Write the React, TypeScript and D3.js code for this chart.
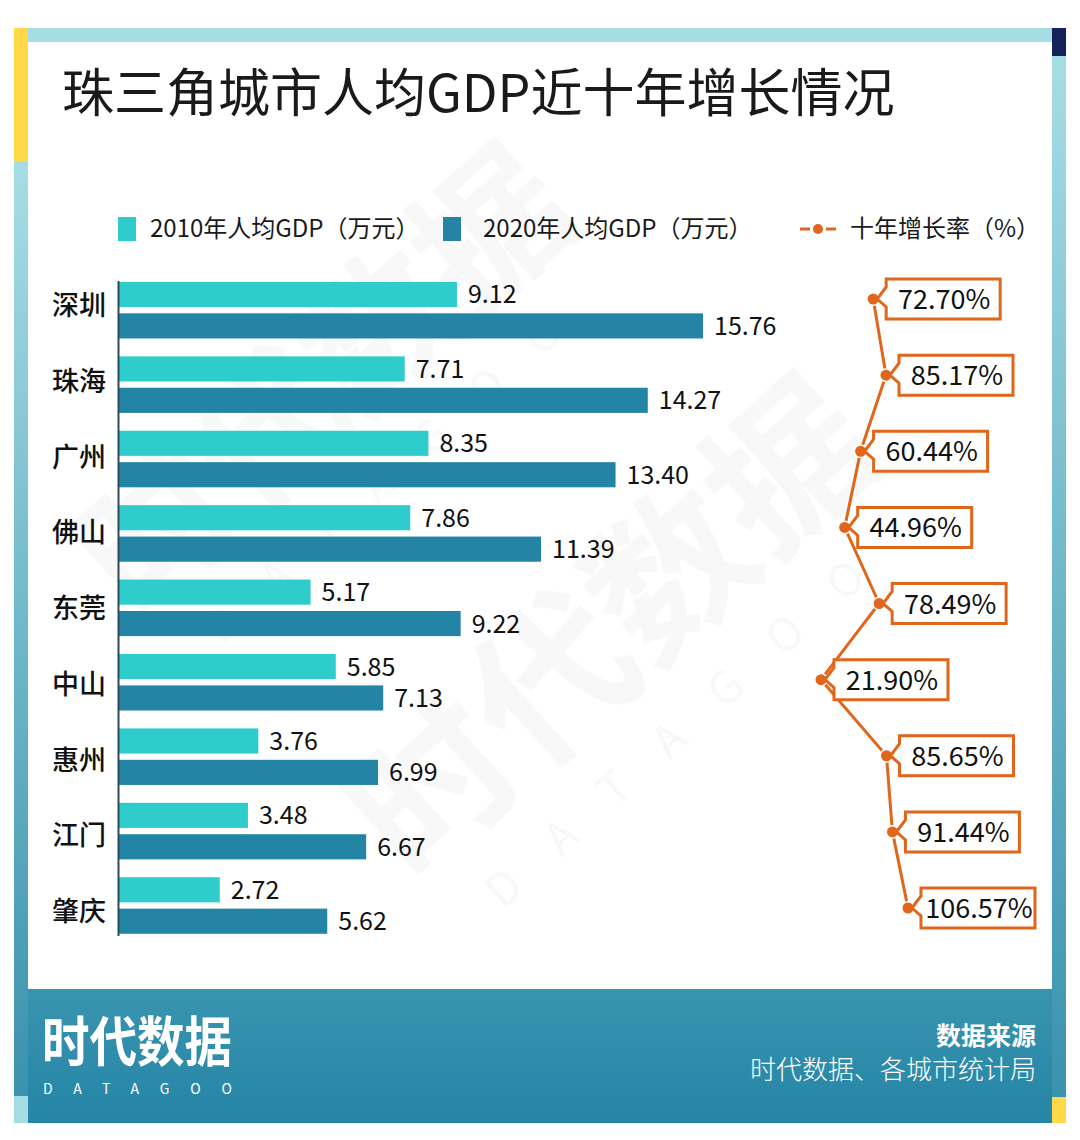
import { scaleBand, scaleLinear, scalePoint, line } from "d3";

const cities = ["深圳", "珠海", "广州", "佛山", "东莞", "中山", "惠州", "江门", "肇庆"];
const gdp2010 = [9.12, 7.71, 8.35, 7.86, 5.17, 5.85, 3.76, 3.48, 2.72];
const gdp2020 = [15.76, 14.27, 13.4, 11.39, 9.22, 7.13, 6.99, 6.67, 5.62];
const growth = [72.7, 85.17, 60.44, 44.96, 78.49, 21.9, 85.65, 91.44, 106.57];
const seriesKeys = ["2010", "2020"];
const legendLabels = ["2010年人均GDP（万元）", "2020年人均GDP（万元）", "十年增长率（%）"];

const FONT = '"Noto Sans CJK SC", "Noto Sans", sans-serif';
const C2010 = "#2ecdcb";
const C2020 = "#2484a5";
const ORANGE = "#e0661c";
const LIGHT = "#a6dde5";

export default function App() {
  const width = 1080;
  const height = 1140;

  const y = scaleBand<string>().domain(cities).range([273, 942.7]).paddingInner(0.24).paddingOuter(0.12);
  const ySub = scaleBand<string>().domain(seriesKeys).range([0, y.bandwidth()]).paddingInner(0.2);
  const x = scaleLinear().domain([0, 15.76]).range([119, 703]);
  const labelY = scalePoint<string>().domain(cities).range([305, 911]);
  const gy = scalePoint<string>().domain(cities).range([299, 908]);
  const gx = scaleLinear().domain([0, 110]).range([798.5, 911.5]);

  const pts: [number, number][] = cities.map((c, i) => [gx(growth[i]), gy(c)!]);
  const path = line()(pts) ?? "";

  const boxW = 114;
  const boxH = 40;

  const watermark = (cx: number, cy: number, size: number, key: string) => (
    <g key={key} transform={`translate(${cx},${cy}) rotate(-42)`} fill="#000" opacity={0.022}>
      <text textAnchor="middle" fontSize={size} fontWeight={700} fontFamily={FONT}>时代数据</text>
      <text y={size * 0.5} textAnchor="middle" fontSize={size * 0.28} fontFamily={FONT} letterSpacing={size * 0.3}>DATAGOO</text>
    </g>
  );

  return (
    <svg width={width} height={height} style={{ position: "absolute", left: 0, top: 0 }} fontFamily={FONT}>
      <defs>
        <linearGradient id="sideGrad" x1="0" y1="0" x2="0" y2="1">
          <stop offset="0" stopColor={LIGHT} />
          <stop offset="1" stopColor="#3a92ae" />
        </linearGradient>
        <linearGradient id="footGrad" x1="0" y1="0" x2="0" y2="1">
          <stop offset="0" stopColor="#3994b0" />
          <stop offset="1" stopColor="#2585a6" />
        </linearGradient>
      </defs>
      <rect width={width} height={height} fill="#fff" />

      {/* frame */}
      <rect x={28} y={28} width={1024} height={14} fill={LIGHT} />
      <rect x={14} y={162} width={14} height={934} fill="url(#sideGrad)" />
      <rect x={14} y={28} width={14} height={134} fill="#ffd94a" />
      <rect x={1052} y={56} width={14} height={1041} fill="url(#sideGrad)" />
      <rect x={1052} y={28} width={14} height={28} fill="#15215a" />
      <rect x={28} y={42} width={1024} height={947} fill="#fff" />

      {watermark(360, 420, 150, "w1")}
      {watermark(650, 670, 160, "w2")}

      {/* title */}
      <text x={62} y={112} fontSize={52} fill="#1a1a1a" fontWeight={400}>
        珠三角城市人均GDP近十年增长情况
      </text>

      {/* legend */}
      <g fontSize={24} fill="#1a1a1a">
        <rect x={118} y={217} width={18} height={24} fill={C2010} />
        <text x={150} y={237}>{legendLabels[0]}</text>
        <rect x={443} y={217} width={18} height={24} fill={C2020} />
        <text x={483} y={237}>{legendLabels[1]}</text>
        <line x1={800} x2={810} y1={229} y2={229} stroke={ORANGE} strokeWidth={3} />
        <line x1={826} x2={836} y1={229} y2={229} stroke={ORANGE} strokeWidth={3} />
        <circle cx={818} cy={229} r={5} fill={ORANGE} />
        <text x={850} y={237}>{legendLabels[2]}</text>
      </g>

      {/* bars */}
      {cities.map((c, i) => {
        const y0 = y(c)!;
        const vals = [gdp2010[i], gdp2020[i]];
        return (
          <g key={c}>
            {seriesKeys.map((k, j) => {
              const by = y0 + ySub(k)!;
              const bh = ySub.bandwidth();
              return (
                <g key={k}>
                  <rect x={x(0)} y={by} width={x(vals[j]) - x(0)} height={bh} fill={j === 0 ? C2010 : C2020} />
                  <text x={x(vals[j]) + 11} y={by + bh / 2 + 9} fontSize={25} fill="#111">
                    {vals[j].toFixed(2)}
                  </text>
                </g>
              );
            })}
            <text x={52} y={labelY(c)! + 10} fontSize={27} fontWeight={500} fill="#111">
              {c}
            </text>
          </g>
        );
      })}
      <line x1={118.5} x2={118.5} y1={281} y2={936} stroke="#2b4c58" strokeWidth={2} />

      {/* growth line */}
      <path d={path} fill="none" stroke={ORANGE} strokeWidth={3} />
      {cities.map((c, i) => {
        const [px, py] = pts[i];
        const left = px + 13;
        const top = py - boxH / 2;
        const d = `M${left},${top} H${left + boxW} V${top + boxH} H${left} V${py + 8} L${px + 4},${py} L${left},${py - 12} Z`;
        return (
          <g key={c}>
            <circle cx={px} cy={py} r={5.5} fill={ORANGE} stroke="#fff" strokeWidth={3} />
            <circle cx={px} cy={py} r={5.5} fill={ORANGE} />
            <path d={d} fill="#fff" stroke={ORANGE} strokeWidth={3} strokeLinejoin="miter" />
            <text x={left + boxW / 2 + 1} y={py + 10} textAnchor="middle" fontSize={27} fill="#111">
              {growth[i].toFixed(2)}%
            </text>
          </g>
        );
      })}

      {/* footer */}
      <rect x={28} y={989} width={1024} height={134} fill="url(#footGrad)" />
      <rect x={14} y={1096} width={14} height={27} fill={LIGHT} />
      <rect x={1052} y={1097} width={14} height={26} fill="#ffd94a" />
      <text x={42} y={1062} fontSize={54} fontWeight={700} fill="#fff" textLength={190} lengthAdjust="spacingAndGlyphs">
        时代数据
      </text>
      <text x={43} y={1094} fontSize={14} fill="#fff" textLength={189} lengthAdjust="spacing">
        DATAGOO
      </text>
      <text x={1036} y={1045} textAnchor="end" fontSize={25} fontWeight={700} fill="#fff">
        数据来源
      </text>
      <text x={1036} y={1079} textAnchor="end" fontSize={26} fontWeight={300} fill="#fff">
        时代数据、各城市统计局
      </text>
    </svg>
  );
}
